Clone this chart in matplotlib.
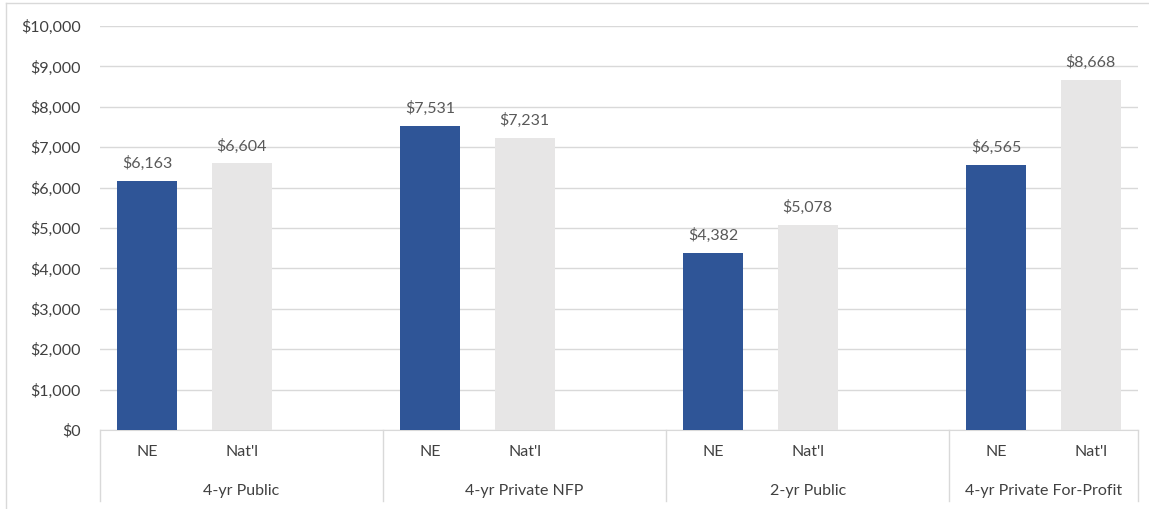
import matplotlib
matplotlib.use("Agg")
import matplotlib.pyplot as plt
from matplotlib.transforms import blended_transform_factory
from matplotlib.lines import Line2D

groups = ["4-yr Public", "4-yr Private NFP", "2-yr Public", "4-yr Private For-Profit"]
series_names = ["NE", "Nat'l"]
ne_values = [6163, 7531, 4382, 6565]
natl_values = [6604, 7231, 5078, 8668]
yticks = list(range(0, 10001, 1000))

colors = ["#2F5597", "#E7E6E6"]
plt.rcParams['font.family'] = ['Lato', 'DejaVu Sans']
FS = 11.5

W, H = 1149, 509
fig = plt.figure(figsize=(W / 100, H / 100), dpi=100)
ax = fig.add_axes([100 / W, 1 - 430 / H, (1138 - 100) / W, (430 - 26) / H])

slots_per_group = [3, 3, 3, 2]
starts = []
s = 0
for n in slots_per_group:
    starts.append(s)
    s += n
total_slots = s

bar_w = 0.635
for si, vals in enumerate([ne_values, natl_values]):
    xs = [starts[g] + si for g in range(len(groups))]
    ax.bar(xs, vals, width=bar_w, color=colors[si], zorder=3)
    for x, v in zip(xs, vals):
        ax.annotate(f"${v:,}", (x, v), xytext=(0, 7), textcoords="offset points",
                    ha="center", va="bottom", fontsize=FS, color="#595959")

ax.set_xlim(-0.5, total_slots - 0.5)
ax.set_ylim(0, 10000)
ax.set_yticks(yticks)
ax.set_yticklabels([f"${v:,}" for v in yticks], fontsize=FS, color="#404040")
ax.tick_params(axis="y", length=0, pad=14)
ax.grid(axis="y", color="#D9D9D9", linewidth=1, zorder=0)
for sp in ["top", "right", "left"]:
    ax.spines[sp].set_visible(False)
ax.spines["bottom"].set_color("#D9D9D9")
ax.set_xticks([])

trans = blended_transform_factory(ax.transData, fig.transFigure)
def fy(py):
    return 1 - py / H

bounds = [st - 0.5 for st in starts] + [total_slots - 0.5]
for g, name in enumerate(groups):
    for si, sn in enumerate(series_names):
        ax.text(starts[g] + si, fy(452), sn, transform=trans, ha="center", va="center",
                fontsize=FS, color="#404040")
    center = (bounds[g] + bounds[g + 1]) / 2
    ax.text(center, fy(491), name, transform=trans, ha="center", va="center",
            fontsize=FS, color="#404040")

for b in bounds:
    ax.add_line(Line2D([b, b], [fy(430), fy(501)], transform=trans, color="#D9D9D9",
                       linewidth=1, clip_on=False))

# outer chart border (cropped at right/bottom)
fig.add_artist(Line2D([6 / W, 6 / W], [0, fy(3)], transform=fig.transFigure, color="#D9D9D9", linewidth=1))
fig.add_artist(Line2D([6 / W, 1], [fy(3), fy(3)], transform=fig.transFigure, color="#D9D9D9", linewidth=1))

fig.savefig("out.png", dpi=100, facecolor="white")
